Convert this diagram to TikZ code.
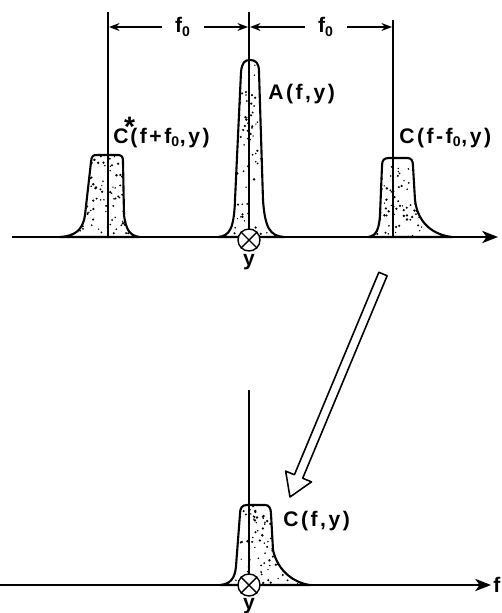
\documentclass[tikz,border=0pt]{standalone}
\usepackage{fontspec}
\setmainfont{Liberation Sans}
\newfontfamily\lblfont{Liberation Sans}[LetterSpace=12]
\usetikzlibrary{calc,arrows.meta}

\tikzset{
  axisline/.style={line width=0.9pt,-{Stealth[length=9pt,width=7pt,inset=2.5pt]}},
  guide/.style={line width=0.8pt},
  dimline/.style={line width=0.8pt,-{Stealth[length=6pt,width=4.5pt]}},
  pulse/.style={line width=1.2pt,line join=round},
  lbl/.style={font={\fontsize{12}{14}\lblfont\bfseries},inner sep=0pt},
  flbl/.style={font={\fontsize{12}{14}\lblfont\bfseries},inner ysep=0pt,inner xsep=7pt},
  otimes/.style={draw,circle,fill=white,minimum size=0.44cm,inner sep=0pt,line width=0.8pt},
}
\newcommand{\speckle}[5]{%
  \foreach \k in {1,...,#5}{\fill ({#1+rnd*#3},{#2+rnd*#4}) circle ({0.7+0.7*rnd});}}

\begin{document}
\begin{tikzpicture}[x=0.02cm,y=-0.02cm]
  \useasboundingbox (0,0) rectangle (502,613);
  \pgfmathsetseed{11}
  \def\pulseL{(60,237) .. controls (75,236) and (83,230) .. (85,215) -- (91,162)
    .. controls (91.5,156) and (93,155) .. (97,155) -- (118,155)
    .. controls (122,155) and (123,157) .. (123,162) -- (124,215)
    .. controls (126,230) and (130,236) .. (140,237) -- cycle}
  \def\pulseA{(218,237) .. controls (230,236) and (234,228) .. (235,200) -- (241,72)
    .. controls (242,62) and (245,60) .. (250,60)
    .. controls (256,60) and (259,63) .. (259,72) -- (263,200)
    .. controls (265,228) and (270,236) .. (284,237) -- cycle}
  \def\pulseR{(368,237) .. controls (376,236) and (379,230) .. (380,215) -- (382,166)
    .. controls (382,160) and (384,158) .. (389,158) -- (407,158)
    .. controls (411,158) and (413,160) .. (413,166) -- (415,200)
    .. controls (418,225) and (435,235) .. (452,237) -- cycle}
  \def\pulseC{(220,585) .. controls (230,584) and (235,579) .. (236,566) -- (240,514)
    .. controls (240,508) and (242,505) .. (247,505) -- (265,505)
    .. controls (269,505) and (271,508) .. (271,514) -- (273,550)
    .. controls (278,572) and (295,583) .. (310,585) -- cycle}

  % upper spectrum
  \begin{scope}\clip \pulseL; \speckle{60}{150}{82}{90}{160}\end{scope}
  \begin{scope}\clip \pulseA; \speckle{216}{55}{70}{185}{180}\end{scope}
  \begin{scope}\clip \pulseR; \speckle{366}{150}{88}{90}{160}\end{scope}
  \draw[pulse] \pulseL;
  \draw[pulse] \pulseA;
  \draw[pulse] \pulseR;

  \coordinate (topL) at (108,12);  \coordinate (baseL) at (108,237);
  \coordinate (topA) at (249,12);  \coordinate (baseA) at (249,237);
  \coordinate (topR) at (393,20);  \coordinate (baseR) at (393,237);
  \draw[guide] (topL) -- (baseL);
  \draw[guide] (topA) -- (baseA);
  \draw[guide] (topR) -- (baseR);

  \coordinate (ax0) at (12,237);
  \coordinate (ax1) at (498,237);
  \draw[axisline] (ax0) -- (ax1);

  % f0 spacings
  \coordinate (dL) at (109,27);
  \coordinate (dA) at (249,27);
  \coordinate (dR) at (392,27);
  \node[flbl] (f1) at (183,27) {f\textsubscript{0}};
  \node[flbl] (f2) at (326,27) {f\textsubscript{0}};
  \draw[dimline] (f1) -- (dL);
  \draw[dimline] (f1) -- ($(dA)+(-1,0)$);
  \draw[dimline] (f2) -- ($(dA)+(1,0)$);
  \draw[dimline] (f2) -- (dR);

  \node[lbl,anchor=base west] (lA) at (268,99) {A(f,y)};
  \node[lbl,anchor=base west] (lCs) at (113,143)
    {C\rlap{\kern-2.5pt\raisebox{0.3em}{\fontsize{16}{16}\selectfont*}}\kern1pt(f+f\textsubscript{0},y)};
  \node[lbl,anchor=base west] (lCm) at (399,143) {C(f-f\textsubscript{0},y)};

  \node[otimes] (o1) at (249,240) {};
  \draw[guide] (o1.north west) -- (o1.south east) (o1.north east) -- (o1.south west);
  \node[lbl,anchor=north] (y1) at (249,254) {y};

  % transfer arrow
  \coordinate (tail) at (383,274);
  \coordinate (tip) at (290,497);
  \coordinate (hb) at ($(tip)!0.092!(tail)$);
  \draw[pulse,line width=0.9pt] ($(tail)!0.09cm!90:(tip)$) -- ($(hb)!0.09cm!90:(tip)$)
    -- ($(hb)!0.28cm!90:(tip)$) -- (tip) -- ($(hb)!0.28cm!-90:(tip)$)
    -- ($(hb)!0.09cm!-90:(tip)$) -- ($(tail)!0.09cm!-90:(tip)$) -- cycle;

  % lower spectrum
  \begin{scope}\clip \pulseC; \speckle{218}{500}{94}{88}{140}\end{scope}
  \draw[pulse] \pulseC;
  \coordinate (topC) at (249,390);
  \coordinate (baseC) at (249,585);
  \draw[guide] (topC) -- (baseC);
  \coordinate (bx0) at (0,585);
  \coordinate (bx1) at (491,585);
  \draw[axisline] (bx0) -- (bx1);
  \node[lbl,anchor=west] (fb) at ($(bx1)+(2,0)$) {f};
  \node[lbl,anchor=base west] (lC) at (283,526) {C(f,y)};
  \node[otimes] (o2) at (249,585) {};
  \draw[guide] (o2.north west) -- (o2.south east) (o2.north east) -- (o2.south west);
  \node[lbl,anchor=north] (y2) at (249,598) {y};
\end{tikzpicture}
\end{document}
